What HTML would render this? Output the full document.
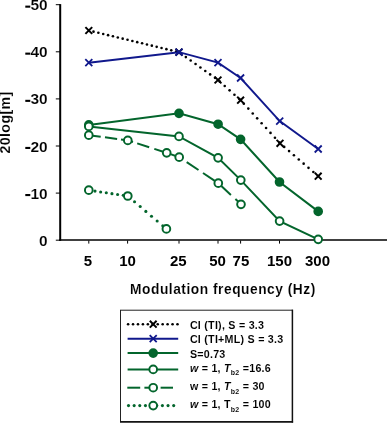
<!DOCTYPE html>
<html><head><meta charset="utf-8"><title>chart</title>
<style>html,body{margin:0;padding:0;background:#fff;width:387px;height:423px;overflow:hidden}</style></head>
<body>
<svg width="387" height="423" viewBox="0 0 387 423" style="position:absolute;left:0;top:0;will-change:transform;font-family:'Liberation Sans',sans-serif;font-weight:bold">
<rect width="387" height="423" fill="#fff"/>
<line x1="60.2" y1="4.1" x2="60.2" y2="240.8" stroke="#000" stroke-width="2"/>
<line x1="59.2" y1="240.05" x2="387" y2="240.05" stroke="#000" stroke-width="1.6"/>
<line x1="55.8" y1="4.7" x2="60" y2="4.7" stroke="#000" stroke-width="1"/>
<text x="47.7" y="10.2" font-size="15.5" text-anchor="end" stroke="#fff" stroke-width="0.15" fill="#000">50</text>
<rect x="25.3" y="5.6" width="5" height="2.1" fill="#000"/>
<line x1="55.8" y1="51.8" x2="60" y2="51.8" stroke="#000" stroke-width="1"/>
<text x="47.7" y="57.2" font-size="15.5" text-anchor="end" stroke="#fff" stroke-width="0.15" fill="#000">40</text>
<rect x="25.3" y="52.6" width="5" height="2.1" fill="#000"/>
<line x1="55.8" y1="98.9" x2="60" y2="98.9" stroke="#000" stroke-width="1"/>
<text x="47.7" y="104.4" font-size="15.5" text-anchor="end" stroke="#fff" stroke-width="0.15" fill="#000">30</text>
<rect x="25.3" y="99.8" width="5" height="2.1" fill="#000"/>
<line x1="55.8" y1="146.0" x2="60" y2="146.0" stroke="#000" stroke-width="1"/>
<text x="47.7" y="151.5" font-size="15.5" text-anchor="end" stroke="#fff" stroke-width="0.15" fill="#000">20</text>
<rect x="25.3" y="146.9" width="5" height="2.1" fill="#000"/>
<line x1="55.8" y1="193.1" x2="60" y2="193.1" stroke="#000" stroke-width="1"/>
<text x="47.7" y="198.6" font-size="15.5" text-anchor="end" stroke="#fff" stroke-width="0.15" fill="#000">10</text>
<rect x="25.3" y="194.0" width="5" height="2.1" fill="#000"/>
<line x1="55.8" y1="240.2" x2="60" y2="240.2" stroke="#000" stroke-width="1"/>
<text x="47.7" y="245.7" font-size="15.5" text-anchor="end" stroke="#fff" stroke-width="0.15" fill="#000">0</text>
<line x1="88.8" y1="240.5" x2="88.8" y2="243.6" stroke="#000" stroke-width="1"/>
<text x="87.8" y="266.3" font-size="15" text-anchor="middle" fill="#000">5</text>
<line x1="127.6" y1="240.5" x2="127.6" y2="243.6" stroke="#000" stroke-width="1"/>
<text x="127.6" y="266.3" font-size="15" text-anchor="middle" fill="#000">10</text>
<line x1="179" y1="240.5" x2="179" y2="243.6" stroke="#000" stroke-width="1"/>
<text x="178.3" y="266.3" font-size="15" text-anchor="middle" fill="#000">25</text>
<line x1="218" y1="240.5" x2="218" y2="243.6" stroke="#000" stroke-width="1"/>
<text x="217.5" y="266.3" font-size="15" text-anchor="middle" fill="#000">50</text>
<line x1="240.6" y1="240.5" x2="240.6" y2="243.6" stroke="#000" stroke-width="1"/>
<text x="240.9" y="266.3" font-size="15" text-anchor="middle" fill="#000">75</text>
<line x1="279.5" y1="240.5" x2="279.5" y2="243.6" stroke="#000" stroke-width="1"/>
<text x="279.5" y="266.3" font-size="15" text-anchor="middle" fill="#000">150</text>
<line x1="318.2" y1="240.5" x2="318.2" y2="243.6" stroke="#000" stroke-width="1"/>
<text x="317.5" y="266.3" font-size="15" text-anchor="middle" fill="#000">300</text>
<text transform="translate(130.1,294.1) scale(0.9,1)" font-size="15.3" stroke="#fff" stroke-width="0.12" textLength="205.8" lengthAdjust="spacing" fill="#000">Modulation frequency (Hz)</text>
<text transform="translate(10,122.6) rotate(-90)" font-size="14.2" text-anchor="middle" textLength="61.8" lengthAdjust="spacing" stroke="#fff" stroke-width="0.12" fill="#000">20log[m]</text>
<circle cx="93.50" cy="31.63" r="1.3" fill="#000"/><circle cx="98.36" cy="32.80" r="1.3" fill="#000"/><circle cx="103.22" cy="33.97" r="1.3" fill="#000"/><circle cx="108.08" cy="35.14" r="1.3" fill="#000"/><circle cx="112.94" cy="36.31" r="1.3" fill="#000"/><circle cx="117.80" cy="37.48" r="1.3" fill="#000"/><circle cx="122.66" cy="38.65" r="1.3" fill="#000"/><circle cx="127.52" cy="39.82" r="1.3" fill="#000"/><circle cx="132.38" cy="40.98" r="1.3" fill="#000"/><circle cx="137.24" cy="42.15" r="1.3" fill="#000"/><circle cx="142.10" cy="43.32" r="1.3" fill="#000"/><circle cx="146.96" cy="44.49" r="1.3" fill="#000"/><circle cx="151.82" cy="45.66" r="1.3" fill="#000"/><circle cx="156.68" cy="46.83" r="1.3" fill="#000"/><circle cx="161.54" cy="48.00" r="1.3" fill="#000"/><circle cx="166.40" cy="49.17" r="1.3" fill="#000"/><circle cx="171.26" cy="50.34" r="1.3" fill="#000"/><circle cx="176.12" cy="51.51" r="1.3" fill="#000"/><circle cx="180.98" cy="53.61" r="1.3" fill="#000"/><circle cx="185.84" cy="57.08" r="1.3" fill="#000"/><circle cx="190.70" cy="60.54" r="1.3" fill="#000"/><circle cx="195.56" cy="64.00" r="1.3" fill="#000"/><circle cx="200.42" cy="67.47" r="1.3" fill="#000"/><circle cx="205.28" cy="70.93" r="1.3" fill="#000"/><circle cx="210.14" cy="74.40" r="1.3" fill="#000"/><circle cx="215.00" cy="77.86" r="1.3" fill="#000"/><circle cx="219.86" cy="81.66" r="1.3" fill="#000"/><circle cx="224.72" cy="86.01" r="1.3" fill="#000"/><circle cx="229.58" cy="90.35" r="1.3" fill="#000"/><circle cx="234.44" cy="94.69" r="1.3" fill="#000"/><circle cx="239.30" cy="99.04" r="1.3" fill="#000"/><circle cx="243.85" cy="103.76" r="1.3" fill="#000"/><circle cx="248.30" cy="108.62" r="1.3" fill="#000"/><circle cx="252.74" cy="113.48" r="1.3" fill="#000"/><circle cx="257.18" cy="118.34" r="1.3" fill="#000"/><circle cx="261.63" cy="123.20" r="1.3" fill="#000"/><circle cx="266.07" cy="128.06" r="1.3" fill="#000"/><circle cx="270.51" cy="132.92" r="1.3" fill="#000"/><circle cx="274.95" cy="137.78" r="1.3" fill="#000"/><circle cx="279.40" cy="142.64" r="1.3" fill="#000"/><circle cx="284.20" cy="146.92" r="1.3" fill="#000"/><circle cx="289.06" cy="151.10" r="1.3" fill="#000"/><circle cx="293.92" cy="155.29" r="1.3" fill="#000"/><circle cx="298.78" cy="159.47" r="1.3" fill="#000"/><circle cx="303.64" cy="163.66" r="1.3" fill="#000"/><circle cx="308.50" cy="167.85" r="1.3" fill="#000"/><circle cx="313.36" cy="172.03" r="1.3" fill="#000"/>
<path d="M85.39999999999999,27.1L92.2,33.9M85.39999999999999,33.9L92.2,27.1" stroke="#000" stroke-width="2.0" fill="none"/>
<path d="M175.6,48.800000000000004L182.4,55.6M175.6,55.6L182.4,48.800000000000004" stroke="#000" stroke-width="2.0" fill="none"/>
<path d="M214.6,76.6L221.4,83.4M214.6,83.4L221.4,76.6" stroke="#000" stroke-width="2.0" fill="none"/>
<path d="M237.2,96.8L244.0,103.60000000000001M237.2,103.60000000000001L244.0,96.8" stroke="#000" stroke-width="2.0" fill="none"/>
<path d="M276.6,139.9L283.4,146.70000000000002M276.6,146.70000000000002L283.4,139.9" stroke="#000" stroke-width="2.0" fill="none"/>
<path d="M314.8,172.79999999999998L321.59999999999997,179.6M314.8,179.6L321.59999999999997,172.79999999999998" stroke="#000" stroke-width="2.0" fill="none"/>
<polyline points="88.8,62.7 179,52.2 218,62.7 240.6,78 279.7,121.1 318.2,149" fill="none" stroke="#10188c" stroke-width="1.9"/>
<path d="M85.3,59.2L92.3,66.2M85.3,66.2L92.3,59.2" stroke="#10188c" stroke-width="1.8" fill="none"/>
<path d="M175.5,48.7L182.5,55.7M175.5,55.7L182.5,48.7" stroke="#10188c" stroke-width="1.8" fill="none"/>
<path d="M214.5,59.2L221.5,66.2M214.5,66.2L221.5,59.2" stroke="#10188c" stroke-width="1.8" fill="none"/>
<path d="M237.1,74.5L244.1,81.5M237.1,81.5L244.1,74.5" stroke="#10188c" stroke-width="1.8" fill="none"/>
<path d="M276.2,117.6L283.2,124.6M276.2,124.6L283.2,117.6" stroke="#10188c" stroke-width="1.8" fill="none"/>
<path d="M314.7,145.5L321.7,152.5M314.7,152.5L321.7,145.5" stroke="#10188c" stroke-width="1.8" fill="none"/>
<polyline points="88.8,124.9 179,113.3 218.1,124.2 240.6,139.3 279.5,182 318.2,211.4" fill="none" stroke="#03652c" stroke-width="2.0"/>
<circle cx="88.8" cy="124.9" r="3.85" fill="#03652c" stroke="#03652c" stroke-width="1.95"/>
<circle cx="179" cy="113.3" r="3.85" fill="#03652c" stroke="#03652c" stroke-width="1.95"/>
<circle cx="218.1" cy="124.2" r="3.85" fill="#03652c" stroke="#03652c" stroke-width="1.95"/>
<circle cx="240.6" cy="139.3" r="3.85" fill="#03652c" stroke="#03652c" stroke-width="1.95"/>
<circle cx="279.5" cy="182" r="3.85" fill="#03652c" stroke="#03652c" stroke-width="1.95"/>
<circle cx="318.2" cy="211.4" r="3.85" fill="#03652c" stroke="#03652c" stroke-width="1.95"/>
<polyline points="88.8,126.4 179,136.4 218.1,157.8 240.8,180.1 279.6,221.1 318.2,239.3" fill="none" stroke="#03652c" stroke-width="2.0"/>
<circle cx="88.8" cy="126.4" r="3.85" fill="#fff" stroke="#03652c" stroke-width="1.95"/>
<circle cx="179" cy="136.4" r="3.85" fill="#fff" stroke="#03652c" stroke-width="1.95"/>
<circle cx="218.1" cy="157.8" r="3.85" fill="#fff" stroke="#03652c" stroke-width="1.95"/>
<circle cx="240.8" cy="180.1" r="3.85" fill="#fff" stroke="#03652c" stroke-width="1.95"/>
<circle cx="279.6" cy="221.1" r="3.85" fill="#fff" stroke="#03652c" stroke-width="1.95"/>
<circle cx="318.2" cy="239.3" r="3.85" fill="#fff" stroke="#03652c" stroke-width="1.95"/>
<polyline points="88.8,135.2 100.7,136.78666666666666" fill="none" stroke="#03652c" stroke-width="2.0"/>
<polyline points="105,137.35999999999999 117.1,138.97333333333333" fill="none" stroke="#03652c" stroke-width="2.0"/>
<polyline points="121,139.49333333333334 127.8,140.4 133,142.05758354755784" fill="none" stroke="#03652c" stroke-width="2.0"/>
<polyline points="137.2,143.39640102827764 149.2,147.2215938303342" fill="none" stroke="#03652c" stroke-width="2.0"/>
<polyline points="154.3,148.84730077120824 166.3,152.6724935732648" fill="none" stroke="#03652c" stroke-width="2.0"/>
<polyline points="170.5,154.13760000000002 179.2,157.2 182.5,159.39437340153452" fill="none" stroke="#03652c" stroke-width="2.0"/>
<polyline points="186.7,162.1872122762148 198.5,170.03375959079284" fill="none" stroke="#03652c" stroke-width="2.0"/>
<polyline points="203,173.02608695652174 214.8,180.87263427109974" fill="none" stroke="#03652c" stroke-width="2.0"/>
<polyline points="219.2,184.03656387665194 230.9,194.91189427312776" fill="none" stroke="#03652c" stroke-width="2.0"/>
<polyline points="235.4,199.09471365638768 241,204.3" fill="none" stroke="#03652c" stroke-width="2.0"/>
<circle cx="88.8" cy="135.2" r="3.85" fill="#fff" stroke="#03652c" stroke-width="1.95"/>
<circle cx="127.8" cy="140.4" r="3.85" fill="#fff" stroke="#03652c" stroke-width="1.95"/>
<circle cx="166.7" cy="152.8" r="3.85" fill="#fff" stroke="#03652c" stroke-width="1.95"/>
<circle cx="179.2" cy="157.2" r="3.85" fill="#fff" stroke="#03652c" stroke-width="1.95"/>
<circle cx="218.3" cy="183.2" r="3.85" fill="#fff" stroke="#03652c" stroke-width="1.95"/>
<circle cx="241" cy="204.3" r="3.85" fill="#fff" stroke="#03652c" stroke-width="1.95"/>
<circle cx="95.00" cy="191.12" r="1.55" fill="#03652c"/><circle cx="100.65" cy="191.96" r="1.55" fill="#03652c"/><circle cx="106.30" cy="192.80" r="1.55" fill="#03652c"/><circle cx="111.95" cy="193.64" r="1.55" fill="#03652c"/><circle cx="117.60" cy="194.48" r="1.55" fill="#03652c"/><circle cx="123.25" cy="195.32" r="1.55" fill="#03652c"/><circle cx="128.90" cy="196.94" r="1.55" fill="#03652c"/><circle cx="134.55" cy="201.75" r="1.55" fill="#03652c"/><circle cx="140.20" cy="206.57" r="1.55" fill="#03652c"/><circle cx="145.85" cy="211.38" r="1.55" fill="#03652c"/><circle cx="151.50" cy="216.20" r="1.55" fill="#03652c"/><circle cx="157.15" cy="221.02" r="1.55" fill="#03652c"/><circle cx="162.80" cy="225.83" r="1.55" fill="#03652c"/>
<circle cx="88.8" cy="190.2" r="3.85" fill="#fff" stroke="#03652c" stroke-width="1.95"/>
<circle cx="127.8" cy="196" r="3.85" fill="#fff" stroke="#03652c" stroke-width="1.95"/>
<circle cx="166.4" cy="228.9" r="3.85" fill="#fff" stroke="#03652c" stroke-width="1.95"/>
<rect x="120.5" y="310.2" width="172" height="111.3" fill="#fff" stroke="#222" stroke-width="1"/>
<line x1="292.4" y1="309.7" x2="292.4" y2="422.6" stroke="#111" stroke-width="1.5"/>
<line x1="120" y1="421.9" x2="293.1" y2="421.9" stroke="#111" stroke-width="1.5"/>
<circle cx="128.10" cy="324.20" r="1.3" fill="#000"/><circle cx="133.04" cy="324.20" r="1.3" fill="#000"/><circle cx="137.98" cy="324.20" r="1.3" fill="#000"/><circle cx="142.92" cy="324.20" r="1.3" fill="#000"/><circle cx="147.86" cy="324.20" r="1.3" fill="#000"/><circle cx="152.80" cy="324.20" r="1.3" fill="#000"/><circle cx="157.74" cy="324.20" r="1.3" fill="#000"/><circle cx="162.68" cy="324.20" r="1.3" fill="#000"/><circle cx="167.62" cy="324.20" r="1.3" fill="#000"/><circle cx="172.56" cy="324.20" r="1.3" fill="#000"/><circle cx="177.50" cy="324.20" r="1.3" fill="#000"/>
<path d="M149.79999999999998,320.8L156.6,327.59999999999997M149.79999999999998,327.59999999999997L156.6,320.8" stroke="#000" stroke-width="2.0" fill="none"/>
<line x1="127.6" y1="338.7" x2="178.2" y2="338.7" stroke="#10188c" stroke-width="1.9"/>
<path d="M149.7,335.2L156.7,342.2M149.7,342.2L156.7,335.2" stroke="#10188c" stroke-width="1.8" fill="none"/>
<line x1="127.6" y1="353.1" x2="178.2" y2="353.1" stroke="#03652c" stroke-width="2.0"/>
<circle cx="153.2" cy="353.1" r="3.85" fill="#03652c" stroke="#03652c" stroke-width="1.95"/>
<line x1="127.6" y1="369.4" x2="178.2" y2="369.4" stroke="#03652c" stroke-width="2.0"/>
<circle cx="153.2" cy="369.4" r="3.85" fill="#fff" stroke="#03652c" stroke-width="1.95"/>
<line x1="127.3" y1="387.7" x2="140.2" y2="387.7" stroke="#03652c" stroke-width="2.0"/>
<line x1="144.4" y1="387.7" x2="157" y2="387.7" stroke="#03652c" stroke-width="2.0"/>
<line x1="160.6" y1="387.7" x2="173" y2="387.7" stroke="#03652c" stroke-width="2.0"/>
<circle cx="153.2" cy="387.7" r="3.85" fill="#fff" stroke="#03652c" stroke-width="1.95"/>
<circle cx="128.50" cy="405.60" r="1.55" fill="#03652c"/><circle cx="134.15" cy="405.60" r="1.55" fill="#03652c"/><circle cx="139.80" cy="405.60" r="1.55" fill="#03652c"/><circle cx="145.45" cy="405.60" r="1.55" fill="#03652c"/><circle cx="151.10" cy="405.60" r="1.55" fill="#03652c"/><circle cx="156.75" cy="405.60" r="1.55" fill="#03652c"/><circle cx="162.40" cy="405.60" r="1.55" fill="#03652c"/><circle cx="168.05" cy="405.60" r="1.55" fill="#03652c"/><circle cx="173.70" cy="405.60" r="1.55" fill="#03652c"/>
<circle cx="153.2" cy="405.6" r="3.85" fill="#fff" stroke="#03652c" stroke-width="1.95"/>
<text x="189.9" y="328.6" font-size="10.7" letter-spacing="0.25" stroke="#fff" stroke-width="0.05" fill="#000">CI (TI), S = 3.3</text>
<text x="189.9" y="343.1" font-size="10.7" letter-spacing="0.25" stroke="#fff" stroke-width="0.05" fill="#000">CI (TI+ML) S = 3.3</text>
<text x="189.9" y="357.5" font-size="10.7" letter-spacing="0.25" stroke="#fff" stroke-width="0.05" fill="#000">S=0.73</text>
<text x="189.9" y="371.8" font-size="10.7" letter-spacing="0.25" stroke="#fff" stroke-width="0.05" fill="#000"><tspan font-style="italic">w</tspan> = 1, <tspan font-style="italic">T</tspan><tspan font-size="7" dy="3.5">b2</tspan><tspan dy="-3.5"> =16.6</tspan></text>
<text x="189.9" y="390.1" font-size="10.7" letter-spacing="0.25" stroke="#fff" stroke-width="0.05" fill="#000">w = 1, <tspan font-style="italic">T</tspan><tspan font-size="7" dy="3.5">b2</tspan><tspan dy="-3.5"> = 30</tspan></text>
<text x="189.9" y="408.0" font-size="10.7" letter-spacing="0.25" stroke="#fff" stroke-width="0.05" fill="#000"><tspan font-style="italic">w</tspan> = 1, T<tspan font-size="7" dy="3.5">b2</tspan><tspan dy="-3.5"> = 100</tspan></text>
</svg>
</body></html>
